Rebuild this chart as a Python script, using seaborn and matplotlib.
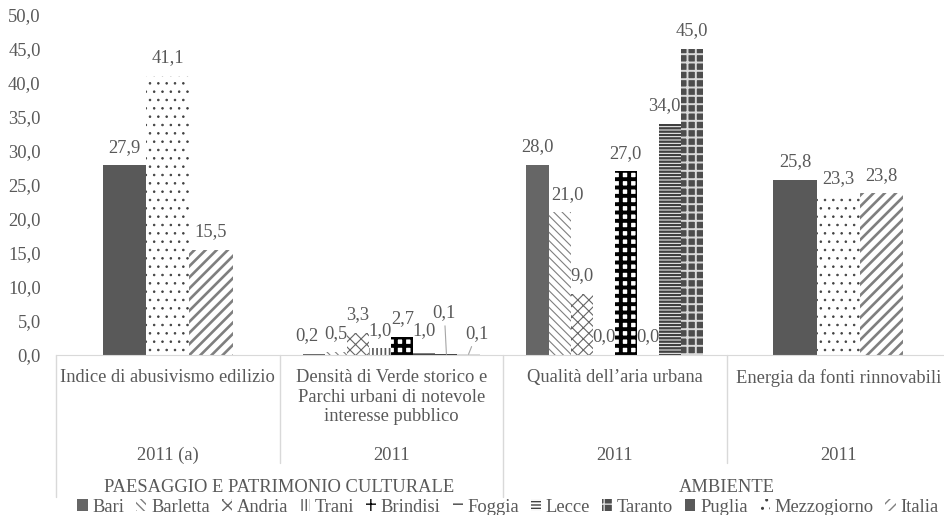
import matplotlib.pyplot as plt
import matplotlib.transforms as mtransforms
from matplotlib.lines import Line2D
from matplotlib.patches import Patch
import pandas as pd
import seaborn as sns

# dati
categorie = [
    "Indice di abusivismo edilizio",
    "Densità di Verde storico e\nParchi urbani di notevole\ninteresse pubblico",
    "Qualità dell’aria urbana",
    "Energia da fonti rinnovabili",
]
anni = ["2011 (a)", "2011", "2011", "2011"]
aree = ["PAESAGGIO E PATRIMONIO CULTURALE", "AMBIENTE"]

citta = ["Bari", "Barletta", "Andria", "Trani", "Brindisi", "Foggia", "Lecce", "Taranto"]
verde_storico = [0.2, 0.5, 3.3, 1.0, 2.7, 1.0, 0.1, 0.1]
aria_urbana = [28.0, 21.0, 9.0, 0.0, 27.0, 0.0, 34.0, 45.0]

territori = ["Puglia", "Mezzogiorno", "Italia"]
abusivismo = [27.9, 41.1, 15.5]
energia = [25.8, 23.3, 23.8]

y_ticks = [0, 5, 10, 15, 20, 25, 30, 35, 40, 45, 50]

serie = citta + territori

# stili delle serie (colore di fondo, colore del tratteggio, tratteggio, spessore)
facce = {"Bari": "#666666", "Barletta": "white", "Andria": "white", "Trani": "white",
         "Brindisi": "white", "Foggia": "white", "Lecce": "white", "Taranto": "#4d4d4d",
         "Puglia": "#595959", "Mezzogiorno": "white", "Italia": "white"}
colori_tratt = {"Bari": "#666666", "Barletta": "#7f7f7f", "Andria": "#666666", "Trani": "#595959",
                "Brindisi": "black", "Foggia": "#404040", "Lecce": "#404040", "Taranto": "#d9d9d9",
                "Puglia": "#595959", "Mezzogiorno": "#404040", "Italia": "#7f7f7f"}
tratteggi = {"Bari": None, "Barletta": "\\\\\\\\", "Andria": "xxx", "Trani": "||||",
             "Brindisi": "++", "Foggia": "--", "Lecce": "-----", "Taranto": "++",
             "Puglia": None, "Mezzogiorno": "..", "Italia": "///"}
spessori = {"Bari": 1, "Barletta": 0.8, "Andria": 0.8, "Trani": 1.2, "Brindisi": 2.8,
            "Foggia": 1.2, "Lecce": 1.7, "Taranto": 1.4, "Puglia": 1, "Mezzogiorno": 0.6,
            "Italia": 1.9}

# etichette spostate a mano: (categoria, serie) -> (dx, dy, linea guida)
speciali = {(1, "Bari"): (-5, 13, False), (1, "Lecce"): (-1.5, 30, True),
            (1, "Taranto"): (6, 15, True), (2, "Barletta"): (6, 13, False),
            (2, "Lecce"): (-4, 13, False)}

sns.set_style("white")
plt.rcParams["font.family"] = ["Liberation Serif", "DejaVu Serif"]
fs = 13.3
plt.rcParams["font.size"] = fs
grigio = "#595959"
linee = "#d9d9d9"

fig = plt.figure(figsize=(9.44, 5.15), dpi=100)
ax = fig.add_axes([56 / 944, 160 / 515, 894 / 944, 340 / 515])

df_citta = pd.DataFrame({
    "categoria": [categorie[1]] * len(citta) + [categorie[2]] * len(citta),
    "serie": citta * 2,
    "valore": verde_storico + aria_urbana,
})
df_terr = pd.DataFrame({
    "categoria": [categorie[0]] * len(territori) + [categorie[3]] * len(territori),
    "serie": territori * 2,
    "valore": abusivismo + energia,
})

sns.barplot(data=df_citta, x="categoria", y="valore", hue="serie", order=categorie,
            hue_order=citta, palette={n: facce[n] for n in citta}, width=0.79,
            saturation=1, errorbar=None, legend=False, ax=ax)
sns.barplot(data=df_terr, x="categoria", y="valore", hue="serie", order=categorie,
            hue_order=territori, palette={n: facce[n] for n in territori}, width=0.58,
            saturation=1, errorbar=None, legend=False, ax=ax)

for nome, cont in zip(serie, ax.containers):
    for p in cont:
        p.set_facecolor(facce[nome])
        p.set_edgecolor(colori_tratt[nome])
        p.set_hatch(tratteggi[nome])
        p.set_linewidth(0)
        if hasattr(p, "set_hatch_linewidth"):
            p.set_hatch_linewidth(spessori[nome])
        h = p.get_height()
        xc = p.get_x() + p.get_width() / 2
        k = int(round(xc))
        dx, dy, guida = speciali.get((k, nome), (0, 13, False))
        ax.annotate(f"{h:.1f}".replace(".", ","), xy=(xc, h), xytext=(dx, dy),
                    textcoords="offset points", ha="center", va="center",
                    color=grigio, fontsize=fs,
                    arrowprops=dict(arrowstyle="-", color="#a6a6a6", lw=0.8,
                                    shrinkA=1, shrinkB=0) if guida else None)

ax.set_xlim(-0.5, 3.5)
ax.set_ylim(0, 50)
ax.set_xticks([])
ax.set_xlabel("")
ax.set_ylabel("")
ax.set_yticks(y_ticks)
ax.set_yticklabels([f"{v:.1f}".replace(".", ",") for v in y_ticks])
ax.tick_params(axis="y", length=0, pad=11, labelcolor=grigio, labelsize=fs)
sns.despine(ax=ax, left=True)
ax.spines["bottom"].set_color(linee)


def fy(px):
    return (515 - px) / 515


trans = mtransforms.blended_transform_factory(ax.transData, fig.transFigure)
for i, (c, a) in enumerate(zip(categorie, anni)):
    ax.text(i, fy(369), c, transform=trans, ha="center", va="top", linespacing=1.2,
            color=grigio, fontsize=fs, clip_on=False)
    ax.text(i, fy(455), a, transform=trans, ha="center", va="center",
            color=grigio, fontsize=fs, clip_on=False)
for j, a in enumerate(aree):
    ax.text(0.5 + 2 * j, fy(488), a, transform=trans, ha="center", va="center",
            color=grigio, fontsize=fs, clip_on=False)
for xb, fondo in [(-0.5, 497), (0.5, 463), (1.5, 497), (2.5, 463)]:
    fig.add_artist(Line2D([xb, xb], [fy(355), fy(fondo)], transform=trans,
                          color=linee, lw=1))

maniglie = [Patch(facecolor=facce[n], edgecolor=colori_tratt[n], hatch=tratteggi[n],
                  linewidth=0, label=n) for n in serie]
fig.legend(handles=maniglie, loc="center", bbox_to_anchor=(0.538, fy(507)), ncol=11,
           frameon=False, handlelength=0.55, handleheight=0.55, handletextpad=0.25,
           columnspacing=0.65, fontsize=fs, labelcolor=grigio, borderaxespad=0)

fig.savefig("out.png", dpi=100)
